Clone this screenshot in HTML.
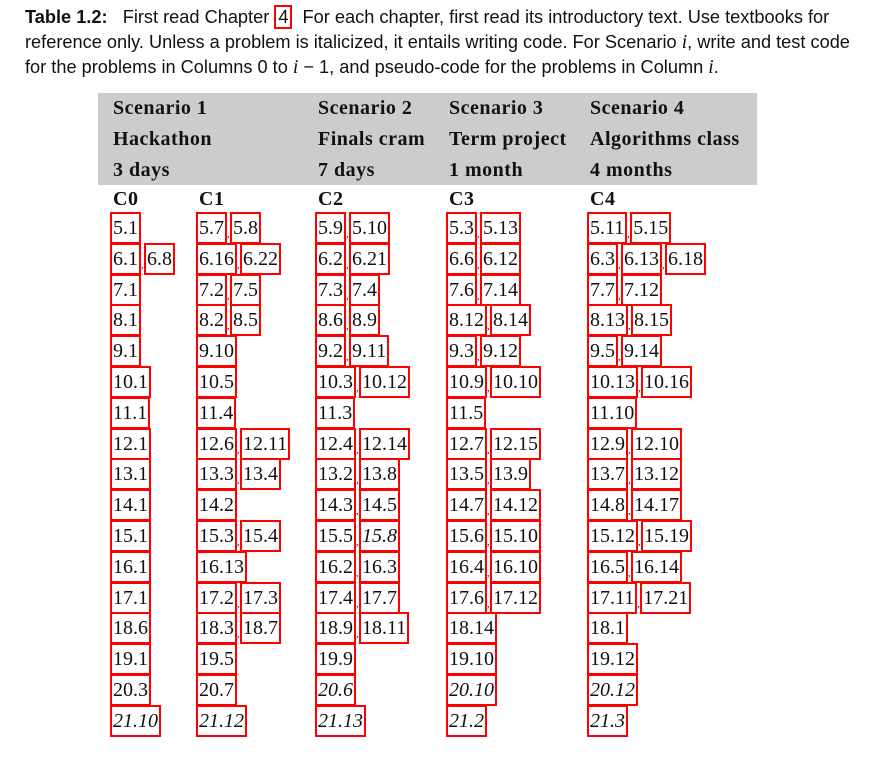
<!DOCTYPE html>
<html><head><meta charset="utf-8">
<style>
body{margin:0;width:895px;height:759px;background:#fff;position:relative;overflow:hidden;font-family:"Liberation Sans",serif;color:#111}
#cap{position:absolute;left:25px;top:5px;width:870px;font-family:"Liberation Sans",sans-serif;font-size:18.2px;line-height:25px;color:#111;white-space:nowrap}
#cap i{font-family:"Liberation Serif",serif;font-size:19.5px}
.b4{border:2px solid #f00;padding:0 2px}
#band{position:absolute;left:98px;top:93px;width:659px;height:92px;background:#ccc}
.h{position:absolute;font-family:"Liberation Serif",serif;font-weight:bold;font-size:20px;letter-spacing:0.5px;white-space:nowrap}
.cell{position:absolute;display:flex;align-items:center;white-space:nowrap;font-family:"Liberation Serif",serif;font-size:20px}
.bx{border:2px solid #f00;height:28px;line-height:28px;padding:0 1px;box-sizing:content-box}
.cm{font-size:10px;width:3px;align-self:flex-end;margin-bottom:4px}
</style></head><body>
<div id="cap"><b>Table 1.2:</b>&nbsp;&nbsp; First read Chapter <span class="b4">4</span>&nbsp; For each chapter, first read its introductory text. Use textbooks for<br>reference only. Unless a problem is italicized, it entails writing code. For Scenario <i>i</i>, write and test code<br>for the problems in Columns 0 to <i>i</i> − 1, and pseudo-code for the problems in Column <i>i</i>.</div>
<div id="band"></div>
<div id="tbl"></div>
<script>
const scen=[["Scenario 1","Hackathon","3 days",113],["Scenario 2","Finals cram","7 days",318],["Scenario 3","Term project","1 month",449],["Scenario 4","Algorithms class","4 months",590]];
const colNames=["C0","C1","C2","C3","C4"];
const colX=[113,199,318,449,590];
const C0=[["5.1"],["6.1","6.8"],["7.1"],["8.1"],["9.1"],["10.1"],["11.1"],["12.1"],["13.1"],["14.1"],["15.1"],["16.1"],["17.1"],["18.6"],["19.1"],["20.3"],["*21.10"]];
const C1=[["5.7","5.8"],["6.16","6.22"],["7.2","7.5"],["8.2","8.5"],["9.10"],["10.5"],["11.4"],["12.6","12.11"],["13.3","13.4"],["14.2"],["15.3","15.4"],["16.13"],["17.2","17.3"],["18.3","18.7"],["19.5"],["20.7"],["*21.12"]];
const C2=[["5.9","5.10"],["6.2","6.21"],["7.3","7.4"],["8.6","8.9"],["9.2","9.11"],["10.3","10.12"],["11.3"],["12.4","12.14"],["13.2","13.8"],["14.3","14.5"],["15.5","*15.8"],["16.2","16.3"],["17.4","17.7"],["18.9","18.11"],["19.9"],["*20.6"],["*21.13"]];
const C3=[["5.3","5.13"],["6.6","6.12"],["7.6","7.14"],["8.12","8.14"],["9.3","9.12"],["10.9","10.10"],["11.5"],["12.7","12.15"],["13.5","13.9"],["14.7","14.12"],["15.6","15.10"],["16.4","16.10"],["17.6","17.12"],["18.14"],["19.10"],["*20.10"],["*21.2"]];
const C4=[["5.11","5.15"],["6.3","6.13","6.18"],["7.7","7.12"],["8.13","8.15"],["9.5","9.14"],["10.13","10.16"],["11.10"],["12.9","12.10"],["13.7","13.12"],["14.8","14.17"],["15.12","15.19"],["16.5","16.14"],["17.11","17.21"],["18.1"],["19.12"],["*20.12"],["*21.3"]];
const cols=[C0,C1,C2,C3,C4];
const T=document.getElementById('tbl');
scen.forEach((s,k)=>{[0,1,2].forEach(j=>{const d=document.createElement('div');d.className='h';


d.style.left=s[3]+'px';d.style.top=(97+j*31)+'px';d.textContent=s[j];T.appendChild(d);});});
colNames.forEach((c,k)=>{const d=document.createElement('div');d.className='h';


d.style.left=colX[k]+'px';d.style.top='188px';d.textContent=c;T.appendChild(d);});
cols.forEach((col,k)=>{col.forEach((row,r)=>{const d=document.createElement('div');d.className='cell';


d.style.left=(colX[k]-3)+'px';d.style.top=(212+r*30.8)+'px';
row.forEach((p,i)=>{if(i>0){const c=document.createElement('span');c.className='cm';c.textContent=',';d.appendChild(c);}
const b=document.createElement('span');b.className='bx';


if(p[0]=='*'){b.style.fontStyle='italic';p=p.slice(1);}b.textContent=p;d.appendChild(b);});
T.appendChild(d);});});
</script>
</body></html>
